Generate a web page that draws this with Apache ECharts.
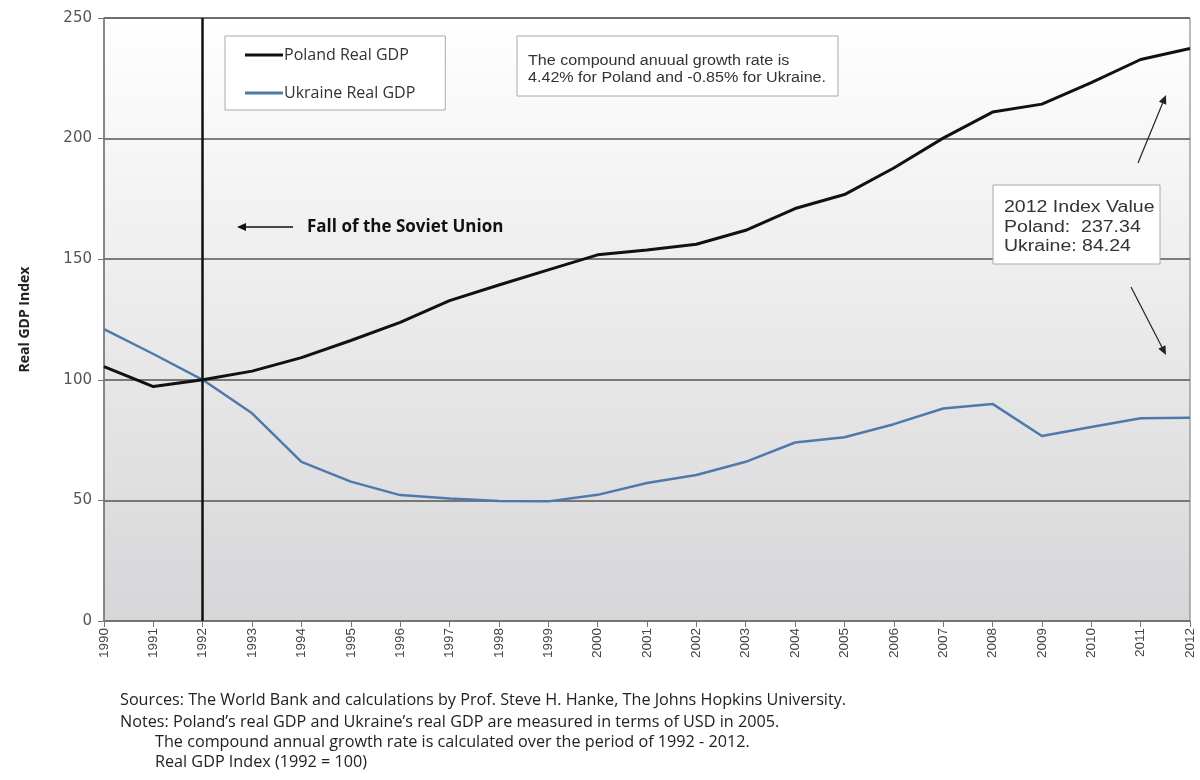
<!DOCTYPE html>
<html>
<head>
<meta charset="utf-8">
<script src="https://cdn.jsdelivr.net/npm/echarts@6/dist/echarts.min.js"></script>
<style>
html,body{margin:0;padding:0;background:#fff;}
#c{width:1200px;height:780px;}
</style>
</head>
<body>
<div id="c"></div>
<script>
const years = ['1990','1991','1992','1993','1994','1995','1996','1997','1998','1999','2000','2001','2002','2003','2004','2005','2006','2007','2008','2009','2010','2011','2012'];
const poland = [105.5, 97.2, 100, 103.6, 109.2, 116.3, 123.8, 132.8, 139.3, 145.6, 151.8, 153.8, 156.2, 162.0, 171.0, 176.8, 187.8, 200.2, 211.0, 214.3, 223.2, 232.8, 237.34];
const ukraine = [121.0, 110.7, 100, 86.1, 66.0, 57.8, 52.2, 50.8, 49.8, 49.6, 52.3, 57.2, 60.5, 66.0, 74.0, 76.2, 81.6, 88.1, 90.0, 76.7, 80.4, 84.1, 84.24];
const yTicks = {min: 0, max: 250, interval: 50};
const seriesNames = ['Poland Real GDP', 'Ukraine Real GDP'];
const cagrText = 'The compound anuual growth rate is\n4.42% for Poland and -0.85% for Ukraine.';
const indexText = '2012 Index Value\nPoland:  237.34\nUkraine: 84.24';
const eventLabel = 'Fall of the Soviet Union';
const eventYear = '1992';
const footLines = [
  'Sources: The World Bank and calculations by Prof. Steve H. Hanke, The Johns Hopkins University.',
  'Notes: Poland\u2019s real GDP and Ukraine\u2019s real GDP are measured in terms of USD in 2005.',
  'The compound annual growth rate is calculated over the period of 1992 - 2012.',
  'Real GDP Index (1992 = 100)'
];

const chart = echarts.init(document.getElementById('c'), null, {renderer: 'canvas'});
const sans = "'Open Sans', sans-serif";
const arial = "'Liberation Sans', Arial, sans-serif";

function arrow(x1, y1, x2, y2, color, w) {
  const ang = Math.atan2(y2 - y1, x2 - x1);
  const L = 9, W = 4;
  const bx = x2 - L * Math.cos(ang), by = y2 - L * Math.sin(ang);
  const px = -Math.sin(ang) * W, py = Math.cos(ang) * W;
  return [
    {type: 'line', shape: {x1: x1, y1: y1, x2: bx, y2: by}, style: {stroke: color, lineWidth: w}, z: 10},
    {type: 'polygon', shape: {points: [[x2, y2], [bx + px, by + py], [bx - px, by - py]]}, style: {fill: color}, z: 10}
  ];
}

function foot(text, x, y) {
  return {type: 'text', x: x, y: y, style: {text: text, font: '16.2px ' + sans, fill: '#222', verticalAlign: 'middle'}};
}

const graphics = [
  {type: 'rect', shape: {x: 517, y: 36, width: 321, height: 60}, style: {fill: '#fff', stroke: '#aaa', lineWidth: 1}, z: 10},
  {type: 'text', x: 528, y: 53, scaleX: 1.15, style: {text: cagrText, font: '14px ' + arial, fill: '#333', lineHeight: 17, verticalAlign: 'top'}, z: 11},
  {type: 'rect', shape: {x: 993, y: 185, width: 167, height: 79}, style: {fill: '#fff', stroke: '#aaa', lineWidth: 1}, z: 10},
  {type: 'text', x: 1004, y: 198, scaleX: 1.22, style: {text: indexText, font: '16px ' + arial, fill: '#333', lineHeight: 19.5, verticalAlign: 'top'}, z: 11},
  {type: 'text', x: 307, y: 227, style: {text: eventLabel, font: 'bold 17px ' + sans, fill: '#111', verticalAlign: 'middle'}, z: 11},
  foot(footLines[0], 120, 700),
  foot(footLines[1], 120, 722),
  foot(footLines[2], 155, 742),
  foot(footLines[3], 155, 762)
]
  .concat(arrow(293, 227, 237, 227, '#111', 1.5))
  .concat(arrow(1138, 163, 1166, 95, '#222', 1.2))
  .concat(arrow(1131, 287, 1166, 355, '#222', 1.2));

chart.setOption({
  animation: false,
  backgroundColor: '#fff',
  grid: {
    left: 104, right: 10, top: 18, bottom: 159,
    show: true,
    borderColor: '#777', borderWidth: 1,
    backgroundColor: new echarts.graphic.LinearGradient(0, 0, 0, 1, [
      {offset: 0, color: '#ffffff'},
      {offset: 1, color: '#d6d6d8'}
    ])
  },
  legend: {
    data: seriesNames,
    orient: 'vertical',
    left: 225, top: 36,
    padding: [11, 30, 9, 20],
    itemGap: 22,
    itemWidth: 38, itemHeight: 3,
    icon: 'rect',
    backgroundColor: '#fff',
    borderColor: '#aaa', borderWidth: 1,
    textStyle: {fontFamily: sans, fontSize: 16, color: '#333', padding: [0, 0, 0, -4]}
  },
  xAxis: {
    type: 'category',
    data: years,
    boundaryGap: false,
    axisLine: {lineStyle: {color: '#777', width: 1.5}},
    axisTick: {show: true, length: 6, lineStyle: {color: '#777'}},
    axisLabel: {rotate: 90, fontSize: 13.5, color: '#444', fontFamily: arial, margin: 7},
    splitLine: {show: false}
  },
  yAxis: {
    type: 'value',
    min: yTicks.min, max: yTicks.max, interval: yTicks.interval,
    name: 'Real GDP Index',
    nameLocation: 'middle',
    nameGap: 72,
    nameTextStyle: {fontFamily: sans, fontSize: 14, fontWeight: 'bold', color: '#222'},
    axisLine: {show: true, lineStyle: {color: '#777', width: 1.5}},
    axisTick: {show: true, length: 6, lineStyle: {color: '#777'}},
    axisLabel: {fontSize: 15, color: '#555', fontFamily: "'DejaVu Sans', sans-serif", margin: 12},
    splitLine: {show: true, lineStyle: {color: '#555', width: 1.5}}
  },
  series: [
    {
      name: seriesNames[0], type: 'line', data: poland,
      showSymbol: false, symbol: 'none',
      lineStyle: {color: '#111', width: 3},
      itemStyle: {color: '#111'},
      z: 5,
      markLine: {
        silent: true, symbol: ['none', 'none'], label: {show: false},
        lineStyle: {color: '#111', width: 2.5, type: 'solid'},
        data: [{xAxis: eventYear}]
      }
    },
    {
      name: seriesNames[1], type: 'line', data: ukraine,
      showSymbol: false, symbol: 'none',
      lineStyle: {color: '#5079ab', width: 2.5},
      itemStyle: {color: '#5079ab'},
      z: 4
    }
  ],
  graphic: graphics
});
</script>
</body>
</html>
